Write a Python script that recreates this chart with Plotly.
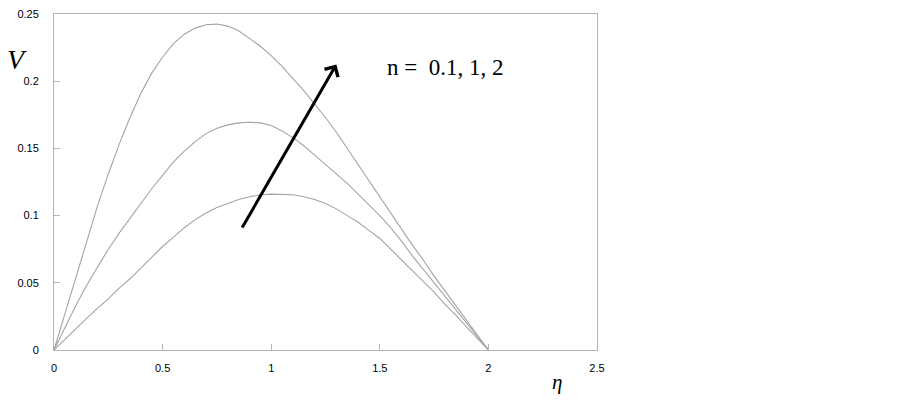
"""Velocity profiles V(eta) for three power-law indices n."""

import plotly.graph_objects as go

# eta grid and profile values
eta = [0.0, 0.05, 0.1, 0.15, 0.2, 0.25, 0.3, 0.35, 0.4, 0.45, 0.5,
       0.55, 0.6, 0.65, 0.7, 0.75, 0.8, 0.85, 0.9, 0.95, 1.0,
       1.05, 1.1, 1.15, 1.2, 1.25, 1.3, 1.35, 1.4, 1.45, 1.5,
       1.55, 1.6, 1.65, 1.7, 1.75, 1.8, 1.85, 1.9, 1.95, 2.0]
v_n01 = [0.0, 0.008, 0.016, 0.0235, 0.031, 0.038, 0.046, 0.053, 0.061, 0.069, 0.077,
         0.084, 0.091, 0.097, 0.102, 0.106, 0.109, 0.112, 0.114, 0.1155, 0.116,
         0.116, 0.1155, 0.114, 0.112, 0.109, 0.105, 0.100, 0.095, 0.089, 0.083,
         0.075, 0.067, 0.059, 0.051, 0.043, 0.034, 0.026, 0.017, 0.0085, 0.0]
v_n1 = [0.0, 0.017, 0.033, 0.048, 0.062, 0.075, 0.087, 0.098, 0.109, 0.120, 0.130,
        0.140, 0.148, 0.155, 0.161, 0.165, 0.1675, 0.169, 0.1695, 0.169, 0.167,
        0.163, 0.158, 0.152, 0.145, 0.138, 0.131, 0.124, 0.116, 0.108, 0.100,
        0.091, 0.081, 0.070, 0.060, 0.050, 0.040, 0.030, 0.020, 0.010, 0.0]
v_n2 = [0.0, 0.027, 0.054, 0.081, 0.107, 0.131, 0.153, 0.173, 0.191, 0.206, 0.218,
        0.228, 0.235, 0.2395, 0.242, 0.2425, 0.241, 0.2375, 0.232, 0.226, 0.219,
        0.211, 0.202, 0.193, 0.183, 0.173, 0.162, 0.150, 0.138, 0.126, 0.114,
        0.102, 0.090, 0.078, 0.067, 0.055, 0.044, 0.033, 0.022, 0.011, 0.0]

x_ticks = [0, 0.5, 1, 1.5, 2, 2.5]
x_ticktext = ["0", "0.5", "1", "1.5", "2", "2.5"]
y_ticks = [0, 0.05, 0.1, 0.15, 0.2, 0.25]
y_ticktext = ["0", "0.05", "0.1", "0.15", "0.2", "0.25"]

LINE = "#a4a4a4"
AXIS = "#b4b4b4"
TICKFONT = dict(family="Liberation Sans Narrow, Liberation Sans, Arial", size=11, color="#000000")

# plot area in page pixels (the page body adds an 8px offset to the figure)
PX_L, PX_R, PX_T, PX_B = 54, 597, 14, 350


def paper_x(px):
    return (px - PX_L) / (PX_R - PX_L)


def paper_y(py):
    return (PX_B - py) / (PX_B - PX_T)


fig = go.Figure()
for name, vals in [("n = 0.1", v_n01), ("n = 1", v_n1), ("n = 2", v_n2)]:
    fig.add_trace(go.Scatter(x=eta, y=vals, mode="lines", name=name,
                             line=dict(color=LINE, width=1.1)))

# arrow indicating increasing n
fig.add_annotation(x=1.30, y=0.2125, ax=0.8625, ay=0.090,
                   xref="x", yref="y", axref="x", ayref="y",
                   showarrow=True, arrowhead=4, arrowsize=1, arrowwidth=3,
                   arrowcolor="#000000", text="")

fig.add_annotation(x=paper_x(385), y=paper_y(68), xref="paper", yref="paper",
                   xanchor="left", yanchor="middle", showarrow=False,
                   text="n =  0.1, 1, 2",
                   font=dict(family="Liberation Serif, Times New Roman", size=23, color="#000000"))
fig.add_annotation(x=paper_x(17), y=paper_y(60), xref="paper", yref="paper",
                   xanchor="center", yanchor="middle", showarrow=False,
                   text="<i>V</i>",
                   font=dict(family="Liberation Serif, Times New Roman", size=28, color="#000000"))
fig.add_annotation(x=paper_x(557), y=paper_y(382), xref="paper", yref="paper",
                   xanchor="center", yanchor="middle", showarrow=False,
                   text="<i>η</i>",
                   font=dict(family="Liberation Serif, Times New Roman", size=21, color="#000000"))

fig.update_xaxes(range=[0, 2.5], tickvals=x_ticks, ticktext=x_ticktext,
                 ticks="inside", ticklen=6, tickcolor=AXIS, tickwidth=1,
                 showline=True, linecolor=AXIS, linewidth=1, mirror=True,
                 showgrid=False, zeroline=False, tickfont=TICKFONT, ticklabelstandoff=8,
                 ticklabeloverflow="allow")
fig.update_yaxes(range=[0, 0.25], tickvals=y_ticks, ticktext=y_ticktext,
                 ticks="inside", ticklen=6, tickcolor=AXIS, tickwidth=1,
                 showline=True, linecolor=AXIS, linewidth=1, mirror=True,
                 showgrid=False, zeroline=False, tickfont=TICKFONT, ticklabelstandoff=12,
                 ticklabeloverflow="allow")

fig.update_layout(
    width=894, height=393,
    margin=dict(l=PX_L - 8, r=894 - (PX_R - 8), t=PX_T - 8, b=393 - (PX_B - 8),
                autoexpand=False),
    plot_bgcolor="#ffffff", paper_bgcolor="#ffffff",
    showlegend=False,
)

fig.write_html("out.html")
